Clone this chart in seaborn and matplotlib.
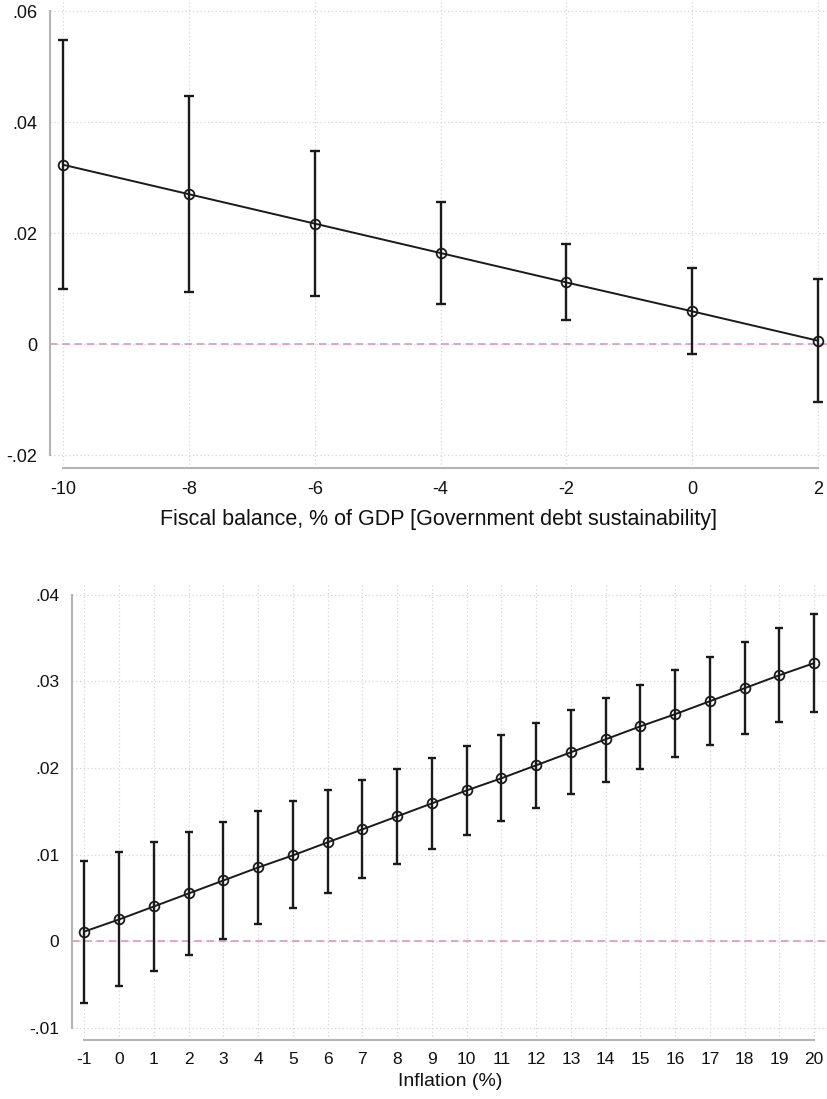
import numpy as np
import pandas as pd
import seaborn as sns
import matplotlib.pyplot as plt
from matplotlib.ticker import FuncFormatter

# top panel: fiscal balance
fb_x = [-10, -8, -6, -4, -2, 0, 2]
fb_est = [0.0323, 0.0270, 0.0217, 0.0164, 0.0111, 0.0059, 0.0006]
fb_hi = [0.0548, 0.0447, 0.0348, 0.0256, 0.0180, 0.0137, 0.0118]
fb_lo = [0.0099, 0.0093, 0.0086, 0.0073, 0.0044, -0.0018, -0.0104]
fb_yticks = [-0.02, 0, 0.02, 0.04, 0.06]

# bottom panel: inflation
inf_x = list(range(-1, 21))
inf_est = [0.0011, 0.0025, 0.0040, 0.0055, 0.0070, 0.0085, 0.0099, 0.0114,
           0.0129, 0.0144, 0.0159, 0.0174, 0.0188, 0.0203, 0.0218, 0.0233,
           0.0248, 0.0262, 0.0277, 0.0292, 0.0307, 0.0321]
inf_hi = [0.0092, 0.0103, 0.0114, 0.0126, 0.0138, 0.0150, 0.0162, 0.0174,
          0.0186, 0.0199, 0.0211, 0.0225, 0.0238, 0.0252, 0.0267, 0.0281,
          0.0296, 0.0313, 0.0328, 0.0345, 0.0361, 0.0378]
inf_lo = [-0.0071, -0.0052, -0.0034, -0.0016, 0.0002, 0.0020, 0.0038, 0.0055,
          0.0073, 0.0089, 0.0106, 0.0122, 0.0139, 0.0154, 0.0170, 0.0184,
          0.0199, 0.0213, 0.0226, 0.0239, 0.0253, 0.0265]
inf_yticks = [-0.01, 0, 0.01, 0.02, 0.03, 0.04]

sns.set_style("white")
plt.rcParams['font.family'] = ['Liberation Sans', 'DejaVu Sans']
plt.rcParams['axes.unicode_minus'] = False

spine_col = "#b4b4b4"
grid_col = "#d6d6d6"
zero_col = "#d98fb8"
ink = "#1a1a1a"


def stata_fmt(v, pos):
    if abs(v) < 1e-12:
        return "0"
    s = f"{v:.2f}".rstrip("0")
    return s.replace("0.", ".")


def panel(ax, x, est, lo, hi, yticks, xlabel, xlim, ylim, tick_fs, label_fs, cap, lpad):
    df = pd.DataFrame({"x": x, "est": est})
    est = np.array(est)
    ax.axhline(0, color=zero_col, lw=1.1, ls=(0, (5, 3)), zorder=1)
    ax.errorbar(x, est, yerr=[est - np.array(lo), np.array(hi) - est], fmt="none",
                ecolor=ink, elinewidth=1.7, capsize=cap, capthick=1.7, zorder=2)
    sns.lineplot(data=df, x="x", y="est", ax=ax, color=ink, lw=1.4,
                 marker="o", markersize=7, markerfacecolor="none",
                 markeredgecolor=ink, markeredgewidth=1.3, zorder=3)
    ax.set_xlim(*xlim)
    ax.set_ylim(*ylim)
    ax.set_xticks(x)
    ax.set_yticks(yticks)
    ax.yaxis.set_major_formatter(FuncFormatter(stata_fmt))
    ax.grid(True, color=grid_col, ls=(0, (1, 2)), lw=0.9)
    ax.set_axisbelow(True)
    for s in ["top", "right"]:
        ax.spines[s].set_visible(False)
    for s in ["left", "bottom"]:
        ax.spines[s].set_color(spine_col)
        ax.spines[s].set_linewidth(1.5)
    ax.spines["left"].set_bounds(yticks[0], yticks[-1])
    ax.spines["bottom"].set_bounds(x[0], x[-1])
    ax.tick_params(axis="both", direction="out", length=5, width=1.1, color=spine_col,
                   labelsize=tick_fs, labelcolor="#111111", pad=4)
    ax.set_xlabel(xlabel, fontsize=label_fs, color="#111111", labelpad=lpad)
    ax.set_ylabel("")


fig = plt.figure(figsize=(8.28, 10.99), dpi=100)
ax1 = fig.add_axes([50 / 828, (1099 - 468) / 1099, 778 / 828, 468 / 1099])
ax2 = fig.add_axes([72 / 828, (1099 - 1040) / 1099, 756 / 828, 455 / 1099])

panel(ax1, fb_x, fb_est, fb_lo, fb_hi, fb_yticks,
      "Fiscal balance, % of GDP [Government debt sustainability]",
      (-10.21, 2.16), (-0.02234, 0.062), 13, 15.5, 3.5, 8)
panel(ax2, inf_x, inf_est, inf_lo, inf_hi, inf_yticks,
      "Inflation (%)",
      (-1.355, 20.4), (-0.01142, 0.04112), 12.5, 14, 3, 4)

fig.savefig("out.png", dpi=100)
